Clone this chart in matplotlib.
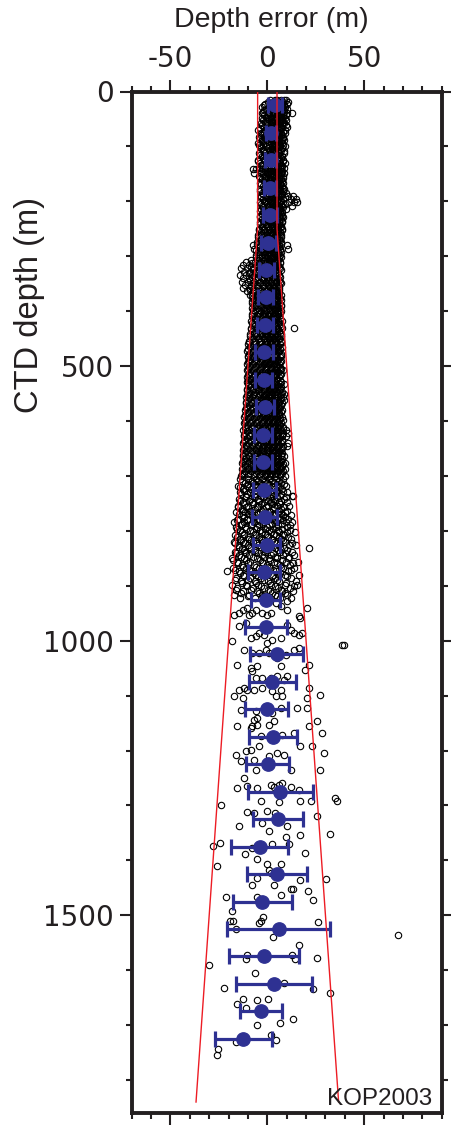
import matplotlib
matplotlib.use("Agg")
import matplotlib.pyplot as plt
from matplotlib import font_manager
from matplotlib.ticker import MultipleLocator, FixedLocator

plt.rcParams['axes.unicode_minus'] = False

# ---------------- data ----------------
# blue: bin means and standard deviations (50 m bins)
blue_depth = [25, 75, 125, 175, 225, 275, 325, 375, 425, 475, 525, 575, 625, 675,
              725, 775, 825, 875, 925, 975, 1025, 1075, 1125, 1175, 1225, 1275,
              1325, 1375, 1425, 1475, 1525, 1575, 1625, 1675, 1725]
blue_mean = [4.0, 2.0, 1.7, 1.5, 1.3, 0.6, -0.5, -0.9, -1.1, -1.7, -1.9, -1.2, -2.1, -2.1,
             -1.5, -1.4, -0.2, -1.7, -0.7, -0.9, 4.8, 2.6, -0.4, 2.9, 0.3, 6.8,
             5.5, -4.0, 5.1, -2.7, 5.8, -1.9, 3.6, -3.1, -12.3]
blue_std = [3.4, 2.5, 3.0, 3.2, 3.5, 3.7, 3.8, 3.9, 4.1, 4.5, 4.5, 4.6, 4.6, 4.7,
            5.8, 6.6, 7.0, 8.4, 7.5, 10.8, 13.5, 12.2, 11.1, 12.4, 11.1, 16.7,
            12.7, 14.9, 15.6, 15.2, 26.4, 18.0, 19.6, 10.9, 14.6]

# red envelope: +/- max(5 m, 2 % of depth)
env_depth = [0, 250, 1840]
env_half = [5.0, 5.0, 36.8]

# individual depth errors (depth, [errors]) -- dense upper part
band_rows_top = [
    (16, [1.5, 3.8, 5.2, 6.9, 8.4, 9.6]), (19, [0.3, 2.9, 4.6, 6.2, 8.0, 10.9]),
    (22, [-1.2, 2.1, 4.4, 6.0, 7.7, 10.3]), (25, [-1.9, 1.4, 3.5, 5.9, 8.6]),
    (28, [-2.5, 0.8, 3.1, 5.5, 7.2, 9.0]), (31, [-0.8, 2.3, 4.2, 6.4, 7.9, 9.9]),
    (34, [-1.8, 1.6, 3.9, 4.8, 6.6, 8.8]), (37, [-2.2, 1.0, 3.3, 6.0, 8.7]),
    (40, [-2.9, 0.2, 2.7, 5.0, 7.9, 10.1, 12.9]), (43, [-1.5, 0.6, 2.9, 5.4, 7.1, 9.8]),
    (46, [-0.9, 1.9, 4.1, 6.3, 8.2]), (49, [-3.0, -0.1, 2.1, 4.5, 6.9, 8.9]),
    (52, [-2.2, 0.9, 3.4, 5.8, 7.5, 9.4]), (55, [-1.1, 1.7, 4.0, 6.2, 8.1]),
    (58, [-3.4, -0.4, 2.5, 4.6, 6.8, 8.6]), (61, [-2.7, 0.5, 2.8, 5.0, 7.8, 9.6]),
    (64, [-1.5, 1.2, 3.6, 5.9, 7.3, 10.2]), (67, [-3.8, -0.4, 2.6, 4.9, 7.0]),
    (70, [-4.6, -1.0, 2.0, 4.3, 6.4, 8.9]), (73, [-1.9, 1.1, 3.4, 5.7, 8.3]),
    (76, [-3.1, 0.4, 2.9, 5.1, 7.0, 9.1]), (79, [-3.4, -0.9, 2.2, 4.5, 6.9]),
    (82, [-4.2, -1.7, 1.4, 3.8, 6.1, 8.0]), (85, [-4.0, -1.2, 1.3, 3.7, 6.0, 8.2]),
    (88, [-2.6, 0.0, 2.4, 4.9, 7.4, 8.7]), (91, [-2.3, 0.8, 2.9, 5.1, 7.2]),
    (94, [-4.8, -1.4, 1.8, 3.2, 5.6, 7.8]), (97, [-4.5, -2.1, 0.9, 3.6, 6.0, 8.0]),
    (100, [-3.5, -0.6, 2.2, 4.4, 6.7, 9.3]), (103, [-3.2, 0.1, 2.4, 4.8, 7.5]),
    (106, [-2.0, 0.7, 3.0, 5.3, 7.1]), (109, [-1.6, 1.2, 3.3, 5.7, 8.8]),
    (112, [-4.4, -1.1, 1.5, 3.9, 6.2, 8.5]), (115, [-4.0, -1.5, 1.0, 3.2, 5.5]),
    (118, [-3.0, 0.3, 2.6, 4.7, 7.6]), (121, [-2.4, 0.5, 2.9, 5.1, 7.0]),
    (124, [-5.0, -1.9, 1.0, 3.5, 5.8, 8.2]), (127, [-4.6, -1.2, 1.6, 3.8, 6.0, 8.1]),
    (130, [-3.7, -0.2, 2.3, 4.2, 6.5, 9.0]), (133, [-3.1, 0.2, 2.7, 4.8, 6.9]),
    (136, [-2.4, 0.9, 3.3, 5.4, 7.7]), (139, [-4.3, -1.0, 1.7, 4.1, 6.3, 8.6]),
    (142, [-7.5, -5.6, -2.1, 0.5, 2.8, 5.0, 7.2]), (145, [-3.5, -1.1, 1.2, 3.3, 5.6, 7.8]),
    (148, [-6.8, -3.2, -0.3, 2.0, 4.5, 6.9, 8.4]), (151, [-2.2, 0.4, 2.9, 5.3, 7.1]),
    (154, [-4.1, -1.3, 1.3, 3.7, 6.0, 7.9]), (157, [-3.6, -1.2, 1.4, 3.9, 6.2, 8.3]),
    (160, [-2.8, 0.1, 2.5, 4.8, 7.0]), (163, [-1.9, 0.9, 3.3, 5.5, 7.6]),
    (166, [-3.9, -0.8, 1.9, 4.0, 6.3, 8.1]), (169, [-3.2, -0.3, 2.4, 4.6, 6.8]),
    (172, [-2.3, 0.6, 3.1, 5.2, 7.4]), (175, [-1.5, 1.2, 3.5, 5.8, 7.9]),
    (178, [-3.6, -0.5, 2.1, 4.4, 6.6, 8.6]), (181, [-3.9, -1.0, 1.5, 3.7, 6.0, 8.3]),
    (184, [-2.7, 0.4, 2.8, 5.0, 7.3, 9.8]), (187, [-2.0, 0.8, 3.2, 5.5, 7.8]),
    (190, [-3.3, -0.1, 2.4, 4.6, 6.9, 10.8, 13.5]), (193, [-3.5, -0.6, 1.8, 4.0, 6.2, 9.1]),
    (196, [-2.1, 1.0, 3.4, 5.7, 8.0, 12.2, 14.8]), (199, [-1.7, 0.3, 2.7, 5.0, 7.2]),
    (202, [-3.8, -0.7, 1.8, 4.1, 6.4, 11.0, 13.9, 15.4]), (205, [-3.1, -0.4, 2.2, 4.6, 6.9, 9.0]),
    (208, [-2.5, 0.5, 3.0, 5.3, 7.6, 12.7]), (211, [-2.3, 0.9, 3.5, 5.8, 7.9]),
    (214, [-3.4, -0.2, 2.2, 4.5, 6.8, 9.6]), (217, [-3.6, -0.6, 1.9, 4.1, 6.3]),
    (220, [-2.0, 0.8, 3.2, 5.5, 7.5]), (223, [-2.5, 0.4, 2.8, 5.0, 7.3]),
    (226, [-3.7, -0.9, 1.6, 3.9, 6.1, 7.8]), (229, [-3.9, -1.0, 1.5, 3.8, 6.0, 7.9]),
    (232, [-2.6, 0.2, 2.7, 4.9, 7.0]), (235, [-2.2, 0.6, 3.0, 5.2, 7.4]),
    (238, [-4.0, -1.2, 1.3, 3.6, 5.8, 7.7]), (241, [-3.7, -0.8, 1.7, 4.0, 6.2]),
    (244, [-2.9, -0.1, 2.4, 4.7, 6.9]), (247, [-2.6, 0.3, 2.6, 5.0, 7.1]),
    (250, [-4.3, -1.5, 1.1, 3.3, 5.6, 7.4]), (253, [-4.5, -1.6, 0.9, 3.2, 5.4, 7.6]),
    (256, [-3.1, -0.3, 2.0, 4.3, 6.5]), (259, [-3.2, 0.0, 2.3, 4.6, 6.8]),
    (262, [-4.9, -1.8, 0.8, 3.0, 5.2, 7.3]), (265, [-4.8, -2.0, 0.6, 2.9, 5.1, 7.2]),
    (268, [-3.5, -0.6, 1.7, 4.0, 6.2]), (271, [-3.6, -0.7, 1.9, 4.2, 6.4]),
    (274, [-5.3, -2.2, 0.4, 2.6, 4.9, 7.1]), (277, [-5.1, -2.4, 0.2, 2.7, 5.0, 7.0]),
    (280, [-7.6, -4.0, -1.0, 1.5, 3.8, 6.0, 10.2]), (283, [-4.3, -1.3, 1.2, 3.5, 5.8]),
    (286, [-6.8, -2.7, 0.1, 2.4, 4.6, 6.8, 10.5]), (289, [-5.6, -3.0, -0.4, 2.0, 4.3, 6.6]),
    (292, [-4.6, -1.6, 1.0, 3.2, 5.5, 7.2]), (295, [-4.4, -1.5, 1.1, 3.4, 5.6]),
    (298, [-5.8, -2.9, -0.2, 2.1, 4.4, 6.4]), (301, [-5.9, -2.7, 0.0, 2.6, 4.9, 7.0]),
]

band_rows_mid = [
    (304, [-4.2, -1.3, 1.2, 3.5, 5.9]), (307, [-8.3, -4.8, -1.9, 0.8, 3.3, 5.7]),
    (310, [-11.2, -6.4, -3.3, -0.4, 2.0, 4.2, 6.5]), (313, [-7.7, -4.1, -1.2, 1.6, 4.2, 6.8]),
    (316, [-12.8, -9.6, -5.1, -2.0, 0.6, 3.0, 5.4]), (319, [-8.6, -5.5, -2.3, 0.5, 3.2, 5.8]),
    (322, [-13.5, -10.4, -7.2, -3.8, -0.9, 1.8, 4.1, 6.6]), (325, [-7.4, -4.2, -1.1, 1.7, 4.4, 7.1]),
    (328, [-12.1, -8.9, -5.9, -2.5, 0.3, 2.7, 5.0]), (331, [-9.2, -6.0, -2.8, 0.0, 2.8, 5.4]),
    (334, [-13.9, -11.0, -7.8, -4.4, -1.2, 1.4, 3.9, 6.2]), (337, [-7.9, -4.7, -1.6, 1.1, 3.7, 6.4]),
    (340, [-12.6, -9.3, -6.2, -3.0, -0.2, 2.5, 4.8]), (343, [-8.9, -5.5, -2.2, 0.6, 3.3, 5.9]),
    (346, [-13.2, -10.1, -6.9, -3.6, -0.7, 1.9, 4.4, 6.8]), (349, [-7.3, -4.0, -0.9, 1.8, 4.6, 7.2]),
    (352, [-11.7, -8.3, -5.4, -2.3, 0.4, 3.1, 5.6]), (355, [-8.4, -5.1, -2.0, 0.8, 3.4, 6.0]),
    (358, [-12.4, -9.0, -4.7, -1.5, 1.2, 3.7, 6.1]), (361, [-9.0, -5.9, -2.5, 0.4, 3.1, 5.8]),
    (364, [-10.6, -7.1, -3.9, -0.8, 2.0, 4.5]), (367, [-7.2, -4.1, -1.0, 1.7, 4.3, 6.2]),
    (370, [-8.8, -5.6, -2.6, 0.1, 2.8, 5.2, 7.0]), (373, [-8.1, -5.2, -2.3, 0.5, 3.0, 5.5]),
    (376, [-7.4, -4.3, -1.4, 1.3, 3.9, 6.3]), (379, [-6.7, -3.6, -0.6, 2.0, 4.7, 7.0]),
    (382, [-8.0, -5.0, -2.0, 0.7, 3.3, 5.7]), (385, [-7.8, -4.8, -1.9, 0.9, 3.5, 6.0]),
    (388, [-6.9, -3.7, -0.9, 1.8, 4.4, 6.9]), (391, [-6.4, -3.3, -0.3, 2.3, 4.9, 7.3]),
    (394, [-7.7, -4.6, -1.7, 1.0, 3.6, 5.9]), (397, [-7.5, -4.4, -1.6, 1.2, 3.8, 6.2]),
    (400, [-6.3, -3.3, -0.5, 2.2, 4.8, 7.2]), (403, [-6.9, -3.9, -1.0, 1.6, 4.1, 6.6]),
    (406, [-7.9, -4.9, -2.1, 0.6, 3.1, 5.5]), (409, [-8.1, -5.1, -2.3, 0.3, 2.8, 5.2]),
    (412, [-6.6, -3.5, -0.7, 1.9, 4.3, 6.7]), (415, [-6.5, -3.7, -0.9, 1.7, 4.2, 6.5]),
    (418, [-8.2, -5.2, -2.4, 0.3, 2.9, 5.3, 7.4]), (421, [-7.9, -4.9, -2.0, 0.6, 3.2, 5.7]),
    (424, [-7.1, -4.0, -1.1, 1.5, 4.0, 6.4]), (427, [-6.7, -3.8, -1.0, 1.8, 4.5, 6.9]),
    (430, [-8.5, -5.5, -2.7, 0.0, 2.6, 5.0, 7.6, 13.7]), (433, [-8.4, -5.3, -2.4, 0.4, 3.0, 5.6]),
    (436, [-7.3, -4.2, -1.3, 1.4, 3.8, 6.2]), (439, [-7.0, -4.0, -1.2, 1.5, 4.1, 6.6]),
    (442, [-8.7, -5.7, -2.9, -0.1, 2.5, 4.9, 7.3]), (445, [-8.8, -5.8, -2.9, -0.2, 2.5, 5.0, 7.2]),
    (448, [-7.6, -4.5, -1.6, 1.1, 3.5, 6.0]), (451, [-7.8, -4.8, -1.9, 0.8, 3.4, 5.9]),
    (454, [-9.3, -6.2, -3.2, -0.4, 2.2, 4.7, 7.1]), (457, [-9.6, -6.6, -3.6, -0.8, 1.9, 4.4, 6.9]),
    (460, [-10.1, -7.0, -4.0, -1.2, 1.5, 4.0, 6.5]), (463, [-8.3, -5.2, -2.3, 0.4, 3.0, 5.6]),
    (466, [-9.0, -5.9, -2.9, -0.1, 2.6, 5.1, 7.4]), (469, [-9.8, -6.7, -3.8, -1.0, 1.7, 4.3, 6.8]),
    (472, [-10.4, -7.3, -4.3, -1.5, 1.2, 3.7, 6.2]), (475, [-8.6, -5.5, -2.6, 0.2, 2.8, 5.4]),
    (478, [-9.5, -6.4, -3.4, -0.6, 2.0, 4.6, 7.0]), (481, [-9.9, -6.8, -3.7, -0.9, 1.8, 4.4, 6.9]),
    (484, [-10.2, -7.1, -4.1, -1.3, 1.4, 3.9, 6.4]), (487, [-8.7, -5.6, -2.5, 0.3, 2.9, 5.5]),
    (490, [-9.2, -6.0, -3.0, -0.2, 2.4, 4.9, 7.3]), (493, [-10.0, -6.9, -3.9, -1.1, 1.6, 4.2, 6.7]),
    (496, [-10.5, -7.4, -4.4, -1.6, 1.0, 3.5, 6.0]), (499, [-8.9, -5.8, -2.8, 0.0, 2.7, 5.2]),
    (502, [-9.6, -6.5, -3.5, -0.7, 1.9, 4.4, 6.8]), (505, [-9.9, -6.8, -3.7, -0.9, 1.8, 4.5, 7.0]),
    (508, [-10.3, -7.2, -4.2, -1.4, 1.3, 3.8, 6.3, 8.1]), (511, [-8.8, -5.7, -2.7, 0.1, 2.8, 5.4]),
    (514, [-9.4, -6.3, -3.3, -0.5, 2.1, 4.6, 7.1]), (517, [-10.1, -7.0, -3.9, -1.1, 1.6, 4.2, 6.8]),
    (520, [-10.6, -7.5, -4.5, -1.7, 0.9, 3.4, 5.9]), (523, [-9.0, -5.9, -2.9, -0.1, 2.6, 5.2]),
    (526, [-9.8, -6.6, -3.6, -0.8, 1.8, 4.3, 6.7]), (529, [-10.3, -7.2, -4.1, -1.2, 1.5, 4.1, 6.9]),
    (532, [-10.0, -6.9, -3.9, -1.1, 1.6, 4.1, 6.6, 8.4]), (535, [-9.2, -6.0, -3.0, -0.2, 2.5, 5.1]),
    (538, [-9.1, -6.1, -3.1, -0.3, 2.3, 4.8, 7.2]), (541, [-10.4, -7.3, -4.2, -1.4, 1.3, 3.9, 6.6]),
    (544, [-10.7, -7.6, -4.6, -1.8, 0.8, 3.3, 5.8]), (547, [-9.3, -6.2, -3.2, -0.4, 2.3, 4.9, 7.5]),
    (550, [-9.7, -6.7, -3.7, -0.9, 1.7, 4.2, 6.9, 8.8]), (553, [-10.6, -7.5, -4.4, -1.6, 1.1, 3.7, 6.3]),
    (556, [-10.9, -7.8, -4.8, -2.0, 0.6, 3.2, 5.6, 7.9]), (559, [-9.5, -6.4, -3.4, -0.6, 2.1, 4.7, 7.2]),
    (562, [-9.9, -6.8, -3.8, -1.0, 1.6, 4.0, 6.5, 8.6]), (565, [-10.8, -7.7, -4.6, -1.8, 0.9, 3.5, 6.1]),
    (568, [-11.2, -8.1, -5.0, -2.2, 0.5, 3.0, 5.5, 7.7]), (571, [-9.7, -6.6, -3.6, -0.8, 1.9, 4.5, 7.0]),
    (574, [-10.3, -7.2, -4.1, -1.3, 1.4, 3.9, 6.4]), (577, [-11.0, -7.9, -4.8, -2.0, 0.7, 3.3, 5.9]),
    (580, [-11.6, -8.4, -5.3, -2.5, 0.2, 2.8, 5.3, 7.6]), (583, [-9.9, -6.8, -3.7, -0.9, 1.8, 4.4, 6.9]),
    (586, [-10.6, -7.5, -4.4, -1.6, 1.1, 3.6, 6.1]), (589, [-11.3, -8.1, -5.0, -2.1, 0.6, 3.2, 5.8]),
    (592, [-11.9, -8.7, -5.6, -2.8, -0.1, 2.5, 5.0, 7.4]), (595, [-10.1, -7.0, -3.9, -1.1, 1.6, 4.2, 6.7]),
    (598, [-10.8, -7.7, -4.6, -1.8, 0.9, 3.4, 5.9, 8.2]), (601, [-11.5, -8.3, -5.2, -2.3, 0.4, 3.0, 5.6]),
    (604, [-12.2, -9.0, -5.9, -3.0, -0.3, 2.3, 4.8, 7.3]), (607, [-10.3, -7.2, -4.1, -1.3, 1.4, 4.0, 6.6]),
    (610, [-11.0, -7.9, -4.8, -2.0, 0.7, 3.2, 5.7, 8.0]), (613, [-11.7, -8.5, -5.4, -2.5, 0.2, 2.8, 5.4, 8.2]),
    (616, [-12.4, -9.2, -6.1, -3.2, -0.5, 2.1, 4.6, 7.1, 9.4]), (619, [-10.5, -7.4, -4.3, -1.5, 1.2, 3.8, 6.4]),
    (622, [-11.3, -8.2, -5.1, -2.3, 0.4, 3.0, 5.5, 7.9, 10.6]), (625, [-11.9, -8.7, -5.6, -2.7, 0.0, 2.6, 5.2, 7.8]),
    (628, [-12.0, -8.8, -5.7, -2.9, -0.2, 2.4, 4.9, 7.5, 9.8]), (631, [-10.7, -7.6, -4.5, -1.7, 1.0, 3.6, 6.2]),
    (634, [-11.5, -8.4, -5.3, -2.4, 0.3, 2.9, 5.4, 7.8]), (637, [-12.0, -8.8, -5.7, -2.8, -0.1, 2.5, 5.1, 7.7]),
    (640, [-12.6, -9.4, -6.3, -3.4, -0.6, 2.0, 4.5, 7.0, 10.9]), (643, [-10.9, -7.7, -4.6, -1.8, 0.9, 3.5, 6.1]),
    (646, [-11.1, -8.0, -4.9, -2.1, 0.6, 3.1, 5.6, 8.1, 9.9]), (649, [-12.2, -9.0, -5.9, -3.0, -0.3, 2.3, 4.9, 7.5]),
    (652, [-12.3, -9.1, -6.0, -3.1, -0.4, 2.2, 4.7, 7.2]), (655, [-11.0, -7.9, -4.8, -2.0, 0.7, 3.3, 5.9]),
    (658, [-11.4, -8.3, -5.2, -2.4, 0.2, 2.8, 5.3, 7.7]), (661, [-12.4, -9.2, -6.1, -3.2, -0.5, 2.1, 4.7, 7.3]),
    (664, [-12.7, -9.5, -6.4, -3.5, -0.7, 1.9, 4.4, 6.9, 8.8]), (667, [-11.2, -8.1, -5.0, -2.2, 0.5, 3.1, 5.7]),
    (670, [-11.8, -8.6, -5.5, -2.7, 0.0, 2.6, 5.1, 7.6]), (673, [-12.6, -9.4, -6.3, -3.4, -0.7, 1.9, 4.5, 7.1]),
    (676, [-12.9, -9.7, -6.6, -3.7, -0.9, 1.7, 4.2, 6.8, 9.0]), (679, [-11.4, -8.3, -5.2, -2.4, 0.3, 2.9, 5.5, 8.0]),
    (682, [-11.6, -8.5, -5.4, -2.6, 0.1, 2.7, 5.2, 7.7]), (685, [-12.8, -9.6, -6.5, -3.6, -0.9, 1.7, 4.3, 6.9]),
    (688, [-13.1, -9.9, -6.8, -3.9, -1.1, 1.5, 4.0, 6.6, 9.2]), (691, [-11.6, -8.5, -5.4, -2.6, 0.1, 2.7, 5.3, 7.9]),
    (694, [-12.0, -8.8, -5.7, -2.8, -0.1, 2.5, 5.0, 7.6]), (697, [-13.0, -9.8, -6.7, -3.8, -1.1, 1.5, 4.1, 6.7]),
    (700, [-13.4, -10.2, -7.0, -4.1, -1.3, 1.3, 3.9, 6.5, 8.9]),
]

band_rows_deep = [
    (706, [-14.2, -9.8, -6.1, -2.7, 1.1, 4.6, 8.3]), (709, [-12.9, -8.0, -4.8, -1.1, 2.5, 6.2]),
    (712, [-11.7, -7.4, -3.9, -0.4, 3.2, 6.9]), (715, [-10.1, -6.5, -2.9, 0.9, 4.9, 8.8]),
    (718, [-15.0, -10.6, -5.2, -1.8, 2.4, 5.7, 9.6]), (721, [-14.0, -9.5, -5.7, -1.4, 3.0, 6.5]),
    (724, [-12.8, -8.3, -4.4, 0.6, 4.1, 7.8]), (727, [-11.8, -7.0, -3.6, 0.3, 4.4, 8.1]),
    (730, [-13.9, -9.1, -2.9, 1.7, 5.2, 10.4]), (733, [-13.5, -10.4, -5.9, -1.0, 2.4, 7.3]),
    (736, [-11.2, -6.8, -3.3, 2.9, 6.4, 12.8, 13.4]), (739, [-11.0, -6.2, -2.1, 1.4, 5.0, 9.8]),
    (742, [-14.6, -8.9, -5.0, -0.9, 3.6, 8.7]), (745, [-14.2, -9.7, -4.2, 0.1, 4.0, 7.0]),
    (748, [-12.3, -7.7, -1.9, 1.9, 5.9, 9.9]), (751, [-12.0, -7.3, -3.1, 2.6, 6.7]),
    (754, [-15.3, -10.0, -4.6, 0.2, 4.8, 11.3]), (757, [-15.1, -10.8, -5.4, -0.7, 3.5, 8.5]),
    (760, [-13.1, -6.3, -2.2, 2.7, 7.1]), (763, [-12.8, -8.8, -2.9, 0.8, 5.8, 10.1]),
    (766, [-16.2, -11.4, -7.9, -3.6, 1.3, 5.5, 9.2]), (769, [-14.4, -9.9, -4.9, -1.8, 2.8, 7.0]),
    (772, [-12.6, -8.0, -0.6, 3.9, 8.0, 12.1]), (775, [-12.2, -7.1, -2.6, 1.7, 6.0, 9.3]),
    (778, [-14.9, -10.3, -5.5, -1.5, 2.2, 6.6, 10.7]), (781, [-15.6, -10.5, -4.3, 0.0, 3.9, 8.1]),
    (784, [-17.0, -12.0, -6.9, -2.4, 4.4, 9.4, 12.6]), (787, [-13.1, -7.9, -2.0, 2.3, 7.7]),
    (790, [-13.6, -8.6, -4.1, 0.9, 5.4, 11.6]), (793, [-16.3, -11.6, -5.2, -0.2, 4.6, 9.9]),
    (796, [-15.7, -10.9, -6.0, -1.2, 3.0, 7.5]), (799, [-14.0, -8.9, -3.8, 1.0, 5.6, 11.9]),
    (802, [-12.9, -7.2, -2.8, 1.8, 6.1, 10.1, 14.3]), (805, [-11.9, -6.6, -1.3, 3.6, 8.2]),
    (808, [-16.5, -11.8, -5.7, -0.3, 4.7, 8.8]), (811, [-15.9, -10.2, -4.5, 0.6, 6.0, 10.8]),
    (814, [-14.1, -9.4, -3.5, 2.5, 7.3, 12.4]), (817, [-13.5, -8.5, -2.7, 2.4, 7.9]),
    (820, [-17.4, -12.7, -7.6, -2.0, 3.5, 9.0]), (823, [-16.9, -11.3, -5.9, -0.5, 4.7, 12.8]),
    (826, [-15.2, -10.1, -4.8, 0.5, 5.8, 11.0, 14.9]), (829, [-14.6, -9.2, -3.5, 1.9, 6.8]),
    (832, [-13.3, -8.2, -1.7, 4.0, 8.5, 21.4]), (835, [-12.0, -6.3, 0.0, 5.6, 10.3]),
    (838, [-16.8, -11.5, -6.5, -1.0, 6.8, 12.9]), (841, [-16.2, -10.9, -4.8, 2.8, 9.2]),
    (844, [-14.4, -9.6, -3.0, 2.1, 7.9, 13.8]), (847, [-13.7, -7.5, -1.5, 4.1, 11.4]),
    (850, [-18.1, -12.2, -5.3, 0.8, 5.0, 10.5]), (853, [-17.5, -11.0, -4.0, 1.5, 7.5]),
    (856, [-15.8, -8.8, -2.5, 3.3, 9.7, 15.6]), (859, [-15.0, -9.9, -2.2, 5.0, 13.0]),
    (862, [-13.0, -6.7, -0.1, 6.3, 11.8]), (865, [-12.3, -5.6, 0.9, 7.3]),
    (868, [-17.7, -10.8, -4.3, 1.6, 8.2, 14.0]), (871, [-16.9, -9.6, -3.1, 3.0, 12.2]),
    (874, [-21.0, -14.7, -7.9, -1.4, 4.5, 10.9]), (877, [-14.2, -7.0, 0.3, 6.5]),
    (880, [-12.4, -5.8, 2.8, 9.1, 16.3]), (883, [-11.9, -4.9, 2.4, 10.4]),
    (886, [-16.0, -9.0, -3.2, 3.8, 12.3]), (889, [-16.6, -9.8, -1.9, 4.8]),
    (892, [-13.8, -6.2, 0.4, 6.0, 14.6]), (895, [-13.0, -5.9, 1.6, 9.8]),
    (898, [-18.4, -11.1, -4.7, 2.0, 8.9, 15.4]), (901, [-10.6, -3.2, 3.9, 13.6]),
    (904, [-15.5, -7.5, -1.6, 5.3, 11.5]), (907, [-16.0, -8.4, 0.2, 7.0]),
    (910, [-12.5, -5.1, 1.2, 7.7, 13.2]), (913, [-13.4, -4.4, 2.5, 9.3]),
    (916, [-17.2, -9.3, -2.6, 4.2, 10.0]), (919, [-10.2, -2.0, 5.2]),
    (922, [-14.0, -6.6, 0.7, 6.7, 12.0]),
]

# sparse deep points (depth, error)
deep_points = [
    (952.7, -17.1), (949.7, -14.6), (943.6, -12.8), (940.6, -10.3), (952.7, -9.4),
    (949.7, -7.7), (943.6, -6.0), (949.7, -2.6), (952.7, 0.0), (949.7, 1.7),
    (931.5, 4.3), (937.5, 6.9), (943.6, 10.3), (928.4, 10.3), (955.7, 16.3),
    (958.8, 17.1), (940.6, 20.6), (973.9, -14.6), (967.9, -11.1), (995.2, -8.6),
    (992.1, -6.0), (986.1, -4.3), (989.1, -1.7), (1004.3, 0.0), (998.2, 2.6),
    (995.2, 6.9), (970.9, 10.3), (980.0, 12.0), (986.1, 13.7), (989.1, 16.3),
    (986.1, 18.0), (1001.2, -18.0), (1007.3, 38.5), (1007.3, 39.4), (1016.4, -12.0),
    (1022.5, -7.7), (1022.5, -4.3), (1016.4, -0.9), (1022.5, 0.9), (1031.6, 5.1),
    (1046.7, 6.9), (1025.5, 9.4), (1016.4, 13.7), (1013.4, 16.3), (1052.8, 19.7),
    (1043.7, 21.4), (1043.7, -15.4), (1049.8, -8.6), (1046.7, -5.1), (1055.8, -7.7),
    (1068.0, -6.0), (1068.0, -2.6), (1068.0, 1.7), (1064.9, 5.1), (1071.0, 8.6),
    (1064.9, 10.3), (1089.2, -14.6), (1086.2, -12.0), (1104.4, -12.8), (1101.3, -17.1),
    (1089.2, -10.3), (1089.2, -6.9), (1086.2, -2.6), (1092.2, 2.6), (1089.2, 6.9),
    (1101.3, 4.3), (1101.3, 7.7), (1086.2, 21.4), (1098.3, 27.4), (1104.4, 20.6),
    (1125.6, -13.7), (1128.6, -6.0), (1140.7, -5.1), (1143.8, -6.9), (1155.9, -7.7),
    (1152.9, -5.1), (1131.6, 2.6), (1122.5, 6.9), (1122.5, 15.4), (1122.5, 20.6),
    (1146.8, 25.7), (1155.9, 21.4), (1155.9, -15.4), (1152.9, 0.9), (1146.8, 3.4),
    (1159.0, -8.6), (1174.1, -3.4), (1198.4, -8.6), (1192.3, -4.3), (1177.1, 1.7),
    (1171.1, 7.7), (1168.0, 13.7), (1192.3, 17.1), (1192.3, 23.1), (1168.0, 28.3),
    (1207.5, -16.3), (1219.6, -13.7), (1201.4, -11.1), (1216.6, -6.9), (1210.5, 0.9),
    (1204.4, 5.1), (1207.5, 8.6), (1204.4, 29.1), (1249.9, -12.0), (1234.8, -6.0),
    (1265.1, -10.3), (1268.1, -5.1), (1292.4, -3.4), (1262.1, 1.7), (1262.1, 6.0),
    (1259.0, 7.7), (1234.8, 12.0), (1271.2, 16.3), (1292.4, 17.1), (1234.8, 27.4),
    (1286.3, 35.1), (1292.4, 36.0), (1298.5, -24.0), (1268.2, -15.8), (1267.0, 3.4),
    (1267.0, 12.0), (1293.6, 6.0), (1291.2, 22.3), (1311.8, -10.3), (1313.7, -6.9),
    (1309.4, -0.3), (1313.7, 3.8), (1318.5, 25.7), (1337.9, -14.4), (1331.9, -2.6),
    (1347.0, 0.9), (1337.9, 10.3), (1353.1, 16.8), (1351.9, 32.2), (1368.3, -24.3),
    (1374.3, -28.1), (1377.4, -7.7), (1388.3, -11.6), (1396.8, -5.5), (1370.1, 2.2),
    (1370.1, 11.1), (1357.9, 9.4), (1386.5, 19.2), (1410.7, -26.0), (1406.5, 0.0),
    (1406.5, 6.9), (1416.8, 0.9), (1422.9, 1.7), (1444.1, -7.7), (1432.0, -5.5),
    (1444.1, 3.4), (1435.0, 16.8), (1451.4, 12.0), (1451.4, 13.4), (1456.2, 21.1),
    (1433.2, 30.5), (1466.5, -21.4), (1467.1, -5.5), (1463.5, 6.9), (1471.4, 23.6),
    (1492.6, -18.0), (1510.8, -19.2), (1510.8, -17.5), (1510.8, -3.4), (1503.5, -2.1),
    (1513.8, -4.1), (1524.2, -16.3), (1524.2, 5.1), (1539.9, 3.1), (1512.0, 26.2),
    (1553.3, 16.3), (1535.0, 67.6), (1573.2, -10.3), (1579.3, -11.1), (1573.2, 12.5),
    (1579.3, 14.2), (1577.5, 25.7), (1591.4, -30.0), (1604.8, -6.3), (1633.3, -22.3),
    (1623.0, 8.6), (1635.1, 23.6), (1642.4, 32.5), (1652.1, -12.8), (1661.2, -15.8),
    (1668.5, -11.1), (1655.1, -5.5), (1653.3, 0.5), (1674.5, -4.8), (1689.7, 13.0),
    (1700.6, -5.5), (1697.0, 6.3), (1718.8, 1.7), (1727.3, 4.3), (1730.9, -16.3),
    (1744.3, -25.4), (1754.6, -26.0),
]

x_major = [-50, 0, 50]
y_major = [0, 500, 1000, 1500]
station_label = "KOP2003"
xlabel = "Depth error (m)"
ylabel = "CTD depth (m)"

# ---------------- assemble ----------------
sc_d, sc_e = [], []
for rows in (band_rows_top, band_rows_mid, band_rows_deep):
    for d, errs in rows:
        for e in errs:
            sc_d.append(d)
            sc_e.append(e)
for d, e in deep_points:
    sc_d.append(d)
    sc_e.append(e)

BLUE = '#2e3192'
RED = '#ed1c24'
INK = '#231f20'
W, H = 452, 1128

fig = plt.figure(figsize=(W / 100, H / 100), dpi=100)
left, right, top, bottom = 131.7, 441.7, 91.5, 1113.0
ax = fig.add_axes([left / W, 1 - bottom / H, (right - left) / W, (bottom - top) / H])

ax.plot(sc_e, sc_d, 'o', ms=4.6, mfc='none', mec='black', mew=0.8, zorder=2)
ax.errorbar(blue_mean, blue_depth, xerr=blue_std, fmt='o', ms=9.6, color=BLUE,
            ecolor=BLUE, elinewidth=2.3, capsize=5.6, capthick=2.3, zorder=3)
ax.plot([-h for h in env_half], env_depth, color=RED, lw=1.0, zorder=4)
ax.plot(env_half, env_depth, color=RED, lw=1.0, zorder=4)

ax.set_xlim(-70, 90)
ax.set_ylim(1860, 0)

ax.xaxis.set_major_locator(FixedLocator(x_major))
ax.xaxis.set_minor_locator(MultipleLocator(10))
ax.yaxis.set_major_locator(FixedLocator(y_major))
ax.yaxis.set_minor_locator(MultipleLocator(100))

ax.tick_params(axis='x', which='both', top=True, bottom=True, labeltop=True,
               labelbottom=False, direction='out')
ax.tick_params(axis='y', which='both', left=True, right=True, labelleft=True,
               labelright=False, direction='out')
ax.tick_params(which='major', length=8.6, width=1.5, labelsize=20, pad=4.5,
               colors=INK)
ax.tick_params(which='minor', length=4.2, width=1.5, colors=INK)
for lab in ax.get_xticklabels() + ax.get_yticklabels():
    lab.set_family('DejaVu Sans')

for sp in ax.spines.values():
    sp.set_linewidth(2.8)
    sp.set_color(INK)

fig.text(271.5 / W, 1 - 26.7 / H, xlabel, ha='center', va='baseline',
         fontsize=20.5, family='Liberation Sans', color=INK)
fig.text(30 / W, 1 - 305 / H, ylabel, ha='center', va='center', rotation=90,
         fontsize=23.5, family='Liberation Sans', color=INK)

names = {f.name for f in font_manager.fontManager.ttflist}
if 'Liberation Sans Narrow' in names:
    fig.text(432 / W, 1 - 1105 / H, station_label, ha='right', va='baseline',
             fontsize=21, family='Liberation Sans Narrow', color=INK, zorder=5)
else:
    fig.text(432 / W, 1 - 1105 / H, station_label, ha='right', va='baseline',
             fontsize=17.5, family='Liberation Sans', color=INK, zorder=5)

fig.savefig('out.png', dpi=100)
